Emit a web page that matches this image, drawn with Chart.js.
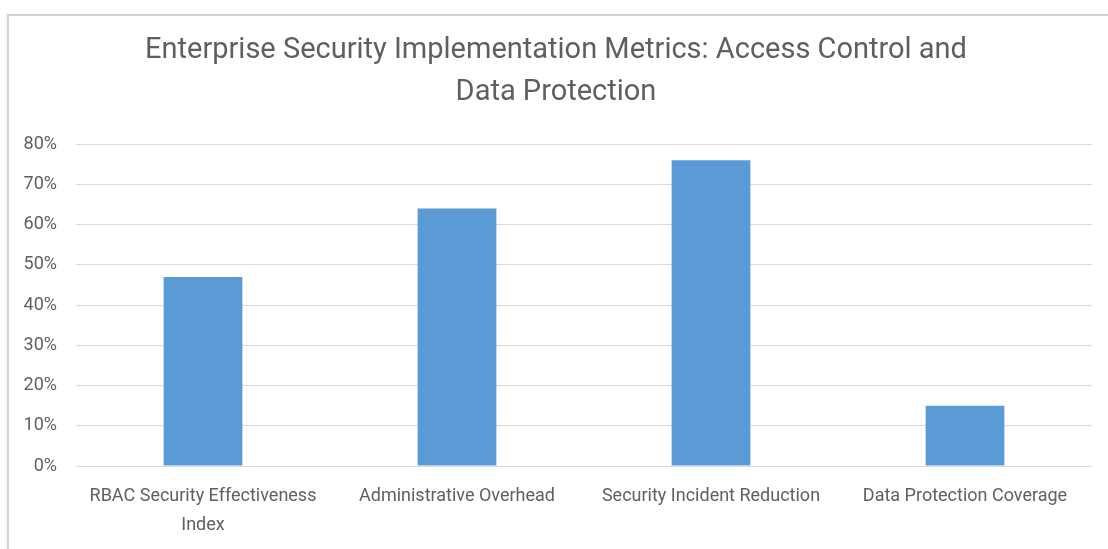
<!DOCTYPE html>
<html>
<head>
<meta charset="utf-8">
<script src="https://cdn.jsdelivr.net/npm/chart.js@4.4.1/dist/chart.umd.min.js"></script>
<style>
  html, body { margin: 0; padding: 0; background: #fff; }
  body { width: 1108px; height: 549px; overflow: hidden; position: relative; }
  #frame { position: absolute; left: 7px; top: 14px; width: 1120px; height: 560px;
           border-left: 2px solid #d4d4d4; border-top: 2px solid #d4d4d4;
           box-shadow: 0 1px 3px rgba(0,0,0,0.12); }
  #wrap { position: absolute; left: 0; top: 0; width: 1108px; height: 549px; }
</style>
</head>
<body>
<div id="frame"></div>
<div id="wrap"><canvas id="c" width="1108" height="549"></canvas></div>
<script>
const titleLines = ["Enterprise Security Implementation Metrics: Access Control and", "Data Protection"];
const categories = [["RBAC Security Effectiveness", "Index"], "Administrative Overhead", "Security Incident Reduction", "Data Protection Coverage"];
const values = [47, 64, 76, 15];
const yTicks = [0, 10, 20, 30, 40, 50, 60, 70, 80];

const textColor = '#5f5f5f';
const fontFamily = 'Roboto, "Noto Sans", sans-serif';

new Chart(document.getElementById('c'), {
  type: 'bar',
  data: {
    labels: categories,
    datasets: [{
      data: values,
      backgroundColor: '#5b9bd5',
      borderWidth: 0,
      barPercentage: 0.62,
      categoryPercentage: 0.5
    }]
  },
  options: {
    responsive: false,
    animation: false,
    devicePixelRatio: 1,
    layout: { padding: { left: 20, right: 16, top: 0, bottom: 0 } },
    plugins: {
      legend: { display: false },
      tooltip: { enabled: false },
      title: {
        display: true,
        text: titleLines,
        color: textColor,
        font: { family: fontFamily, size: 29, weight: 'normal', lineHeight: 1.45 },
        padding: { top: 30, bottom: 30 }
      }
    },
    scales: {
      x: {
        grid: { display: false, drawTicks: false },
        border: { display: false },
        ticks: { color: textColor, font: { family: fontFamily, size: 18, lineHeight: 1.6 }, padding: 16, maxRotation: 0, autoSkip: false },
        afterFit: (s) => { s.height = 83; }
      },
      y: {
        min: 0, max: 80,
        afterBuildTicks: (s) => { s.ticks = yTicks.map(v => ({ value: v })); },
        grid: { color: '#d9d9d9', lineWidth: 1, drawTicks: false },
        border: { display: false },
        ticks: { color: textColor, font: { family: fontFamily, size: 18 }, padding: 19, callback: (v) => v + '%' },
        afterFit: (s) => { s.width = 56; }
      }
    }
  }
});
</script>
</body>
</html>
